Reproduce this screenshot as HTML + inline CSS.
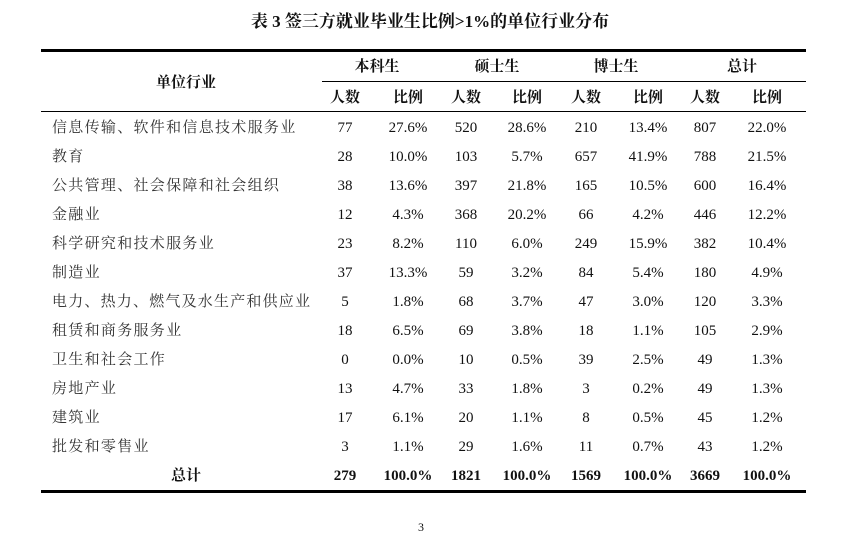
<!DOCTYPE html>
<html><head><meta charset="utf-8"><style>
body{margin:0;width:847px;height:526px;background:#fff;position:relative;overflow:hidden;font-family:"Liberation Serif","Noto Serif CJK SC",serif;color:#111}
.t{position:absolute;white-space:nowrap;font-size:15px;line-height:16px}
.c{transform:translateX(-50%)}
.b{font-weight:bold}
.l{letter-spacing:1.3px}
.r{position:absolute;background:#000}
</style></head><body>
<div class="t c b" style="left:430px;top:13px;font-size:17px;line-height:18px">表 3 签三方就业毕业生比例&gt;1%的单位行业分布</div>
<div class="r" style="left:41px;top:49px;width:765px;height:3px"></div>
<div class="r" style="left:322px;top:81px;width:484px;height:1px"></div>
<div class="r" style="left:41px;top:111px;width:765px;height:1px"></div>
<div class="r" style="left:41px;top:490px;width:765px;height:3px"></div>
<div class="t c b" style="left:186px;top:75px">单位行业</div>
<div class="t c b" style="left:377px;top:59px">本科生</div>
<div class="t c b" style="left:497px;top:59px">硕士生</div>
<div class="t c b" style="left:616px;top:59px">博士生</div>
<div class="t c b" style="left:742px;top:59px">总计</div>
<div id="h"></div>
<script>
var xs=[345,408,466,527,586,648,705,767];
var h='';
['人数','比例','人数','比例','人数','比例','人数','比例'].forEach(function(s,i){h+='<div class="t c b" style="left:'+xs[i]+'px;top:90px">'+s+'</div>';});
var rows=[
['信息传输、软件和信息技术服务业','77','27.6%','520','28.6%','210','13.4%','807','22.0%'],
['教育','28','10.0%','103','5.7%','657','41.9%','788','21.5%'],
['公共管理、社会保障和社会组织','38','13.6%','397','21.8%','165','10.5%','600','16.4%'],
['金融业','12','4.3%','368','20.2%','66','4.2%','446','12.2%'],
['科学研究和技术服务业','23','8.2%','110','6.0%','249','15.9%','382','10.4%'],
['制造业','37','13.3%','59','3.2%','84','5.4%','180','4.9%'],
['电力、热力、燃气及水生产和供应业','5','1.8%','68','3.7%','47','3.0%','120','3.3%'],
['租赁和商务服务业','18','6.5%','69','3.8%','18','1.1%','105','2.9%'],
['卫生和社会工作','0','0.0%','10','0.5%','39','2.5%','49','1.3%'],
['房地产业','13','4.7%','33','1.8%','3','0.2%','49','1.3%'],
['建筑业','17','6.1%','20','1.1%','8','0.5%','45','1.2%'],
['批发和零售业','3','1.1%','29','1.6%','11','0.7%','43','1.2%']];
rows.forEach(function(r,j){var y=120+j*29;
var st=(j==6)?'letter-spacing:1.2px;':'';
h+='<div class="t l" style="left:52px;top:'+y+'px;color:#333;'+st+'">'+r[0]+'</div>';
for(var i=1;i<9;i++)h+='<div class="t c" style="left:'+xs[i-1]+'px;top:'+y+'px">'+r[i]+'</div>';});
var tot=['279','100.0%','1821','100.0%','1569','100.0%','3669','100.0%'];
h+='<div class="t c b" style="left:186px;top:468px">总计</div>';
tot.forEach(function(s,i){h+='<div class="t c b" style="left:'+xs[i]+'px;top:468px">'+s+'</div>';});
h+='<div class="t c" style="left:421px;top:519px;font-size:12px">3</div>';
document.getElementById('h').innerHTML=h;
</script>
</body></html>
